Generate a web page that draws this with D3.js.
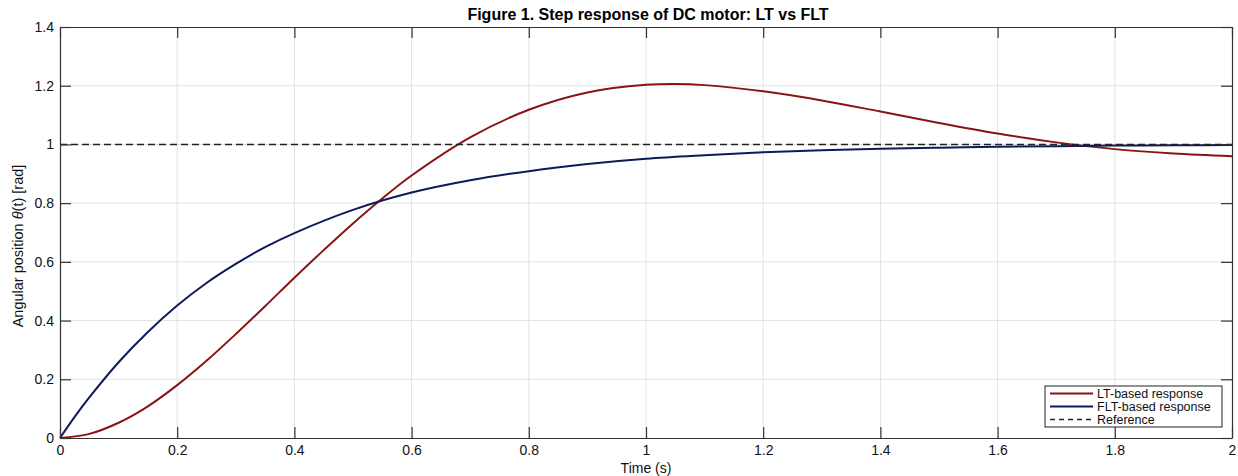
<!DOCTYPE html>
<html>
<head>
<meta charset="utf-8">
<script src="https://cdn.jsdelivr.net/npm/d3@7"></script>
<style>
  body { margin: 0; background: #fff; }
  svg { display: block; font-family: "Liberation Sans", Arial, sans-serif; }
</style>
</head>
<body>
<div id="chart"></div>
<script>

var width = 1238,
	height = 476,
	margin = {top: 27, right: 6, bottom: 38, left: 60};

// values

var t_lt = [0, 0.05, 0.1, 0.15, 0.2, 0.25, 0.3, 0.35, 0.4, 0.45, 0.5, 0.55, 0.6, 0.7, 0.8, 0.9, 1.0, 1.05, 1.1, 1.2, 1.3, 1.4, 1.5, 1.6, 1.7, 1.8, 1.9, 2.0];
var y_lt = [0, 0.014, 0.052, 0.108, 0.18, 0.263, 0.354, 0.449, 0.546, 0.64, 0.731, 0.816, 0.894, 1.024, 1.118, 1.177, 1.203, 1.206, 1.202, 1.181, 1.15, 1.112, 1.073, 1.037, 1.007, 0.984, 0.969, 0.96];

var t_flt = [0, 0.025, 0.05, 0.1, 0.15, 0.2, 0.25, 0.3, 0.35, 0.4, 0.5, 0.6, 0.7, 0.8, 0.9, 1.0, 1.1, 1.2, 1.3, 1.4, 1.5, 1.6, 1.7, 1.8, 1.9, 2.0];
var y_flt = [0, 0.072, 0.138, 0.258, 0.361, 0.451, 0.528, 0.593, 0.65, 0.698, 0.777, 0.836, 0.878, 0.909, 0.933, 0.951, 0.963, 0.973, 0.98, 0.985, 0.989, 0.992, 0.994, 0.996, 0.997, 0.998];

var t_ref = [0, 2],
	y_ref = [1, 1];

var xticks = [0, 0.2, 0.4, 0.6, 0.8, 1, 1.2, 1.4, 1.6, 1.8, 2],
	xtickLabels = ["0", "0.2", "0.4", "0.6", "0.8", "1", "1.2", "1.4", "1.6", "1.8", "2"],
	yticks = [0, 0.2, 0.4, 0.6, 0.8, 1, 1.2, 1.4],
	ytickLabels = ["0", "0.2", "0.4", "0.6", "0.8", "1", "1.2", "1.4"];

var seriesNames = ["LT-based response", "FLT-based response", "Reference"];

var ltcolor = "#8a1414",
	fltcolor = "#0d1a5c",
	refcolor = "#222",
	gridcolor = "#e2e2e2",
	axiscolor = "#333";

var zip = function(a, b){ return a.map(function(d, i){ return [d, b[i]]; }); };

var series = [
	{name: seriesNames[0], pts: zip(t_lt, y_lt), color: ltcolor, dash: null, w: 2},
	{name: seriesNames[1], pts: zip(t_flt, y_flt), color: fltcolor, dash: null, w: 2},
	{name: seriesNames[2], pts: zip(t_ref, y_ref), color: refcolor, dash: "7,4", w: 1.6}
];

var X = d3.scaleLinear().domain([0, 2]).range([margin.left, width - margin.right]);
var Y = d3.scaleLinear().domain([0, 1.4]).range([height - margin.bottom, margin.top]);

var svg = d3.select("#chart").append("svg")
	.attr("width", width)
	.attr("height", height);

svg.append("rect").attr("width", width).attr("height", height).attr("fill", "#fff");

// grid

var grid = svg.append("g");
grid.selectAll(".vg").data(xticks.slice(1, -1)).enter().append("line")
	.attr("x1", function(d){ return X(d); }).attr("x2", function(d){ return X(d); })
	.attr("y1", Y(0)).attr("y2", Y(1.4))
	.attr("stroke", gridcolor).attr("stroke-width", 1);
grid.selectAll(".hg").data(yticks.slice(1, -1)).enter().append("line")
	.attr("y1", function(d){ return Y(d); }).attr("y2", function(d){ return Y(d); })
	.attr("x1", X(0)).attr("x2", X(2))
	.attr("stroke", gridcolor).attr("stroke-width", 1);

// curves

var line = d3.line()
	.x(function(d){ return X(d[0]); })
	.y(function(d){ return Y(d[1]); })
	.curve(d3.curveCatmullRom.alpha(0.5));

svg.selectAll(".curve").data(series).enter().append("path")
	.attr("d", function(d){ return line(d.pts); })
	.attr("fill", "none")
	.attr("stroke", function(d){ return d.color; })
	.attr("stroke-width", function(d){ return d.w; })
	.attr("stroke-dasharray", function(d){ return d.dash; });

// axes (box on, ticks inward)

var tl = 11;

function styleAxis(g){
	g.selectAll(".domain").attr("stroke", axiscolor).attr("stroke-width", 1.2);
	g.selectAll(".tick line").attr("stroke", axiscolor).attr("stroke-width", 1.2);
	g.selectAll(".tick text").attr("fill", "#111").attr("font-size", 14);
}

svg.append("g").attr("transform", "translate(0," + Y(0) + ")")
	.call(d3.axisBottom(X).tickValues(xticks).tickFormat(function(d, i){ return xtickLabels[i]; })
		.tickSizeInner(-tl).tickSizeOuter(0).tickPadding(7))
	.call(styleAxis);

svg.append("g").attr("transform", "translate(" + X(0) + ",0)")
	.call(d3.axisLeft(Y).tickValues(yticks).tickFormat(function(d, i){ return ytickLabels[i]; })
		.tickSizeInner(-tl).tickSizeOuter(0).tickPadding(6))
	.call(styleAxis);

svg.append("g").attr("transform", "translate(0," + Y(1.4) + ")")
	.call(d3.axisTop(X).tickValues(xticks).tickFormat("").tickSizeInner(-tl).tickSizeOuter(0))
	.call(styleAxis);

svg.append("g").attr("transform", "translate(" + X(2) + ",0)")
	.call(d3.axisRight(Y).tickValues(yticks).tickFormat("").tickSizeInner(-tl).tickSizeOuter(0))
	.call(styleAxis);

// titles

svg.append("text")
	.attr("x", (X(0) + X(2)) / 2 + 2).attr("y", 20)
	.attr("text-anchor", "middle")
	.attr("font-size", 16).attr("font-weight", "bold").attr("fill", "#000")
	.text("Figure 1. Step response of DC motor: LT vs FLT");

svg.append("text")
	.attr("x", (X(0) + X(2)) / 2).attr("y", 472.5)
	.attr("text-anchor", "middle")
	.attr("font-size", 14).attr("fill", "#111")
	.text("Time (s)");

var ylab = svg.append("text")
	.attr("transform", "translate(23,246) rotate(-90)")
	.attr("text-anchor", "middle")
	.attr("font-size", 14.5).attr("fill", "#111");
ylab.append("tspan").text("Angular position  ");
ylab.append("tspan").attr("font-style", "italic").text("\u03b8");
ylab.append("tspan").text("(t)  [rad]");

// legend

var lg = svg.append("g").attr("transform", "translate(1045,386)");
lg.append("rect").attr("width", 177).attr("height", 41)
	.attr("fill", "#fff").attr("stroke", "#222").attr("stroke-width", 1);

var items = lg.selectAll(".item").data(series).enter().append("g")
	.attr("transform", function(d, i){ return "translate(0," + (7.5 + i * 13) + ")"; });
items.append("line")
	.attr("x1", 5).attr("x2", 48)
	.attr("stroke", function(d){ return d.color; })
	.attr("stroke-width", function(d){ return d.w; })
	.attr("stroke-dasharray", function(d){ return d.dash ? "5,4" : null; });
items.append("text")
	.attr("x", 52).attr("dy", "0.35em")
	.attr("font-size", 12.5).attr("fill", "#111")
	.text(function(d){ return d.name; });

</script>
</body>
</html>
